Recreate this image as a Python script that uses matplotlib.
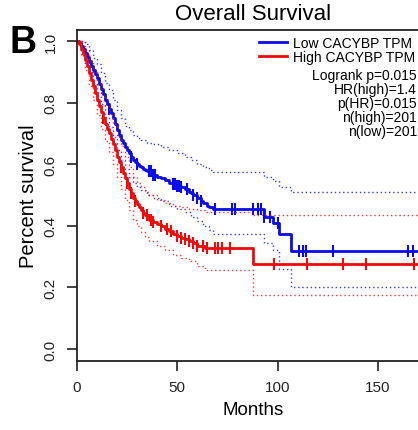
import matplotlib
matplotlib.use("Agg")
import matplotlib.pyplot as plt
import numpy as np

plt.rcParams['font.family'] = ['Liberation Sans', 'DejaVu Sans']

# Kaplan-Meier estimates (months, survival)
low_months = [0, 1, 2, 3, 4, 5, 6, 7, 8, 9, 10, 11, 12, 13, 14, 15, 16, 17, 18, 19, 20,
              21, 22, 23, 24, 25, 26, 27, 28, 29, 30, 31, 32, 33, 34, 35, 38, 40, 42, 44,
              46, 48, 50, 52, 54, 56, 57, 58, 60, 62, 63, 65, 66, 68, 93, 97.5, 100.5, 106.5]
low_surv = [1.0, 0.995, 0.985, 0.973, 0.96, 0.948, 0.935, 0.92, 0.905, 0.893, 0.88, 0.862,
            0.845, 0.828, 0.81, 0.795, 0.78, 0.765, 0.75, 0.73, 0.71, 0.695, 0.68, 0.668,
            0.655, 0.645, 0.635, 0.625, 0.615, 0.607, 0.6, 0.595, 0.59, 0.585, 0.58, 0.578,
            0.565, 0.56, 0.555, 0.548, 0.54, 0.535, 0.53, 0.525, 0.52, 0.51, 0.505, 0.5,
            0.49, 0.48, 0.475, 0.465, 0.46, 0.455, 0.43, 0.41, 0.373, 0.318]
low_censor = [16, 27, 30, 36, 37, 38, 39, 48, 49, 50, 51, 52, 55, 58, 60, 62, 69, 77.5, 79,
              88, 90, 91.5, 93, 96, 100, 110.5, 112.5, 114, 127.5, 165, 167.5]

# 95% confidence band of the low group
low_ci_months = [0, 2, 4, 6, 8, 10, 12, 14, 16, 18, 20, 22, 24, 26, 28, 30, 32, 35, 38, 42,
                 46, 50, 54, 57, 60, 63, 66, 68, 93, 97.5, 100.5, 106.5]
low_upper = [1.0, 1.0, 0.99, 0.97, 0.945, 0.925, 0.895, 0.865, 0.84, 0.81, 0.775, 0.75, 0.725,
             0.71, 0.695, 0.685, 0.678, 0.67, 0.665, 0.655, 0.645, 0.635, 0.625, 0.615, 0.6,
             0.59, 0.58, 0.575, 0.56, 0.545, 0.525, 0.51]
low_lower = [1.0, 0.965, 0.93, 0.9, 0.865, 0.835, 0.795, 0.755, 0.72, 0.69, 0.645, 0.615, 0.585,
             0.56, 0.54, 0.525, 0.515, 0.5, 0.49, 0.48, 0.465, 0.455, 0.445, 0.43, 0.415,
             0.4, 0.385, 0.375, 0.345, 0.32, 0.26, 0.2]

high_months = [0, 1, 2, 3, 4, 5, 6, 7, 8, 9, 10, 11, 12, 13, 14, 15, 16, 17, 18, 19, 20,
               21, 22, 23, 24, 25, 26, 27, 28, 29, 30, 31, 32, 33, 34, 36, 38, 40, 42, 44,
               46, 48, 50, 52, 54, 56, 58, 60, 64, 88]
high_surv = [1.0, 0.99, 0.975, 0.958, 0.94, 0.918, 0.895, 0.875, 0.855, 0.832, 0.81, 0.79,
             0.77, 0.75, 0.73, 0.715, 0.7, 0.683, 0.665, 0.645, 0.625, 0.607, 0.59, 0.572,
             0.555, 0.538, 0.52, 0.505, 0.49, 0.48, 0.47, 0.46, 0.45, 0.443, 0.435, 0.42,
             0.413, 0.405, 0.398, 0.39, 0.383, 0.375, 0.368, 0.362, 0.356, 0.35, 0.343,
             0.335, 0.328, 0.276]
high_censor = [13, 22, 25, 27, 29, 33, 35, 37, 38, 42, 45, 47, 50, 52, 54, 56, 58, 60, 63, 65,
               69, 70.5, 72.5, 76.5, 98, 114.5, 132.5, 144, 168]

# 95% confidence band of the high group
high_ci_months = [0, 2, 4, 6, 8, 10, 12, 14, 16, 18, 20, 22, 24, 26, 28, 30, 32, 34, 36, 40,
                  44, 48, 52, 56, 60, 64, 88]
high_upper = [1.0, 1.0, 0.97, 0.935, 0.9, 0.86, 0.825, 0.79, 0.76, 0.73, 0.69, 0.66, 0.625,
              0.59, 0.56, 0.54, 0.525, 0.51, 0.5, 0.485, 0.475, 0.465, 0.46, 0.455, 0.45,
              0.445, 0.435]
high_lower = [1.0, 0.95, 0.905, 0.855, 0.81, 0.76, 0.715, 0.675, 0.64, 0.6, 0.56, 0.52, 0.485,
              0.45, 0.42, 0.4, 0.38, 0.365, 0.35, 0.335, 0.32, 0.305, 0.295, 0.285, 0.27,
              0.255, 0.175]

last_month = 176
legend_labels = ["Low CACYBP TPM", "High CACYBP TPM"]
stats_lines = ["Logrank p=0.015", "HR(high)=1.4", "p(HR)=0.015", "n(high)=201", "n(low)=201"]


def step(ax, months, values, **kw):
    t = list(months) + [last_month]
    v = list(values) + [values[-1]]
    return ax.plot(t, v, drawstyle='steps-post', **kw)


def draw_group(ax, months, surv, ci_months, upper, lower, censor, color, label):
    step(ax, months, surv, color=color, lw=2, label=label)
    step(ax, ci_months, upper, color=color, lw=1, ls=(0, (1, 2)), alpha=0.8)
    step(ax, ci_months, lower, color=color, lw=1, ls=(0, (1, 2)), alpha=0.8)
    # censor ticks sit on the step function
    idx = np.searchsorted(months, censor, side='right') - 1
    ax.plot(censor, np.array(surv)[idx], ls='none', marker='|', color=color,
            markersize=9, markeredgewidth=1.5)


fig = plt.figure(figsize=(4.18, 4.31), dpi=100)
ax = fig.add_axes([77 / 418, 69 / 431, 353 / 418, 331 / 431])

draw_group(ax, low_months, low_surv, low_ci_months, low_upper, low_lower, low_censor,
           '#0a0af0', legend_labels[0])
draw_group(ax, high_months, high_surv, high_ci_months, high_upper, high_lower, high_censor,
           '#f00a0a', legend_labels[1])

ax.set_xlim(0, last_month)
ax.set_ylim(-0.039, 1.036)
ax.set_xticks([0, 50, 100, 150])
ax.set_yticks([0.0, 0.2, 0.4, 0.6, 0.8, 1.0])
ax.set_yticklabels(["0.0", "0.2", "0.4", "0.6", "0.8", "1.0"], rotation=90, va='center')
ax.tick_params(direction='out', length=7, width=1.2, labelsize=11, colors='#222222')
ax.tick_params(axis='y', pad=7)
ax.tick_params(axis='x', pad=7)
for side in ['top', 'right', 'left', 'bottom']:
    ax.spines[side].set_linewidth(1.3)
    ax.spines[side].set_color('#222222')

ax.set_xlabel("Months", fontsize=13.5, labelpad=5)
ax.set_ylabel("Percent survival", fontsize=14.5, labelpad=4)
ax.set_title("Overall Survival", fontsize=16, pad=8)

# legend in the R style: two line entries then right-aligned statistics
ax.legend(loc='upper left', bbox_to_anchor=(0.49, 1.01), frameon=False, fontsize=10,
          handlelength=2.0, handletextpad=0.45, labelspacing=0.0, borderaxespad=0.25)
y0 = 76
for i, line in enumerate(stats_lines):
    fig.text(417 / 418, 1 - (y0 + 14 * i) / 431, line, ha='right', va='center',
             fontsize=10)

fig.text(10 / 418, 1 - 43 / 431, "B", fontsize=27, fontweight='bold', va='center', ha='left')

fig.savefig("out.png", dpi=100)
